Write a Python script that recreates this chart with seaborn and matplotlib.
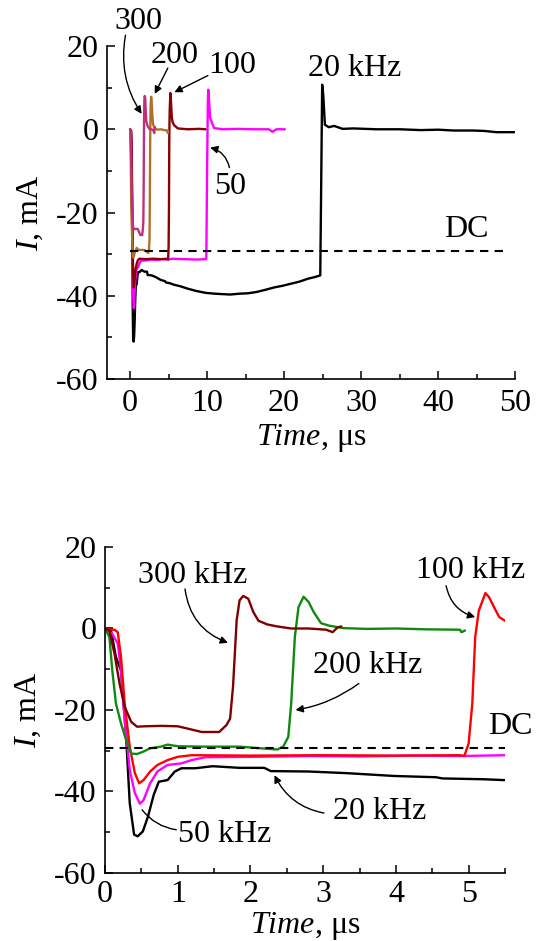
import pandas as pd
import seaborn as sns
import matplotlib.pyplot as plt
from matplotlib.ticker import MultipleLocator

# Current traces I(t) for each modulation frequency (time in us, current in mA)
t_20 = [0, 0.08, 0.15, 0.22, 0.29, 0.34, 0.40, 0.45, 0.52, 0.59, 0.67, 0.74, 0.86, 0.96,
        1.05, 1.24, 1.48, 1.85, 2.19, 2.28, 2.8, 3.32, 3.98, 4.55, 4.64, 5.21, 5.6, 6.5,
        7.5, 8.5, 9.8, 11, 12, 13, 14.2, 15.3, 16.4, 17.5, 18.7, 19.8, 20.9, 22, 23.1,
        24, 24.7, 24.8, 24.95, 25.1, 25.3, 25.8, 26.5, 27.6, 29, 32, 35, 37.8, 40, 42,
        44.5, 46, 47.6, 49.9]
i_20 = [0, -0.3, -7, -10.3, -26.6, -42.9, -50.6, -51.0, -49.8, -46.2, -40.8, -37.6, -37.2,
        -35.1, -34.3, -34.3, -33.8, -34.2, -34.2, -35.0, -35.1, -35.5, -36.2, -36.5, -36.8,
        -37.0, -37.3, -37.7, -38.3, -38.8, -39.3, -39.5, -39.6, -39.7, -39.5, -39.4, -39.1,
        -38.6, -38.0, -37.6, -37.1, -36.6, -35.9, -35.5, -35.1, -17.2, 10.7, 8.0, 1.1, 0.5,
        0.8, 0.1, 0.2, 0, 0, -0.2, -0.1, -0.3, -0.3, -0.4, -0.7, -0.7]

t_50 = [0, 0.10, 0.175, 0.22, 0.27, 0.34, 0.41, 0.48, 0.53, 0.62, 0.72, 0.86, 1.05, 1.19,
        1.38, 2.0, 2.8, 3.5, 4.2, 4.9, 5.5, 7, 8.5, 9.9, 10.0, 10.1, 10.16, 10.4, 10.9,
        12, 14, 16, 18, 18.5, 19, 20.1]
i_50 = [0, -1.3, -3.7, -10.3, -22.5, -34.7, -40.4, -43.0, -42.1, -38.0, -35.1, -33.5, -33.1,
        -32.3, -31.6, -31.5, -31.3, -31.4, -31.2, -31.3, -31.1, -31.2, -31.3, -31.2, -10,
        7, 9.5, 2.7, 0.3, 0, 0.1, 0, 0, -0.6, 0, 0]

t_100 = [0, 0.08, 0.13, 0.175, 0.22, 0.27, 0.34, 0.41, 0.47, 0.53, 0.62, 0.72, 0.86, 1.0,
         1.19, 2.0, 3.0, 4.0, 4.88, 4.94, 5.0, 5.05, 5.09, 5.14, 5.23, 5.28, 5.35, 5.42,
         5.51, 5.7, 6.2, 7.5, 9.0, 9.8]
i_100 = [0, -0.3, -0.3, -0.9, -7, -18.4, -29, -35.5, -38, -37.2, -35.1, -33.5, -32.3, -31.5,
         -31.1, -31.2, -31.1, -31.2, -31.1, -31.3, -28.2, -18.4, -2.1, 4.4, 8.7, 7.7, 5.2,
         2.8, 1.8, 1.0, 0.2, 0, 0.1, 0]

t_200 = [0, 0.06, 0.10, 0.15, 0.22, 0.29, 0.36, 0.44, 0.53, 0.62, 0.77, 0.86, 1.0, 1.38,
         1.85, 2.14, 2.37, 2.45, 2.52, 2.56, 2.61, 2.66, 2.73, 2.80, 2.87, 2.97, 3.08,
         3.27, 3.6, 4.0, 4.4, 4.88, 4.9, 4.95]
i_200 = [0, -2.1, -10.3, -18.4, -23.3, -27.4, -30.7, -30.8, -30.2, -29.4, -29.0, -28.5,
         -28.9, -29.0, -29.0, -29.4, -29.7, -29.0, -26.6, -18.4, -2.1, 5.2, 7.8, 6.5, 4.0,
         1.3, 0.7, 0.1, -0.1, 0, -0.2, -0.3, -0.9, -0.5]

t_300 = [0, 0.06, 0.13, 0.2, 0.27, 0.36, 0.44, 0.55, 0.77, 1.0, 1.12, 1.33, 1.57, 1.67,
         1.72, 1.76, 1.81, 1.85, 1.90, 1.97, 2.04, 2.11, 2.23, 2.37, 2.56, 2.8, 3.04, 3.13,
         3.20, 3.25]
i_300 = [0, -0.5, -6.2, -13.5, -19.2, -22.9, -24.1, -24.0, -23.9, -24.0, -24.5, -25.4,
         -25.4, -23.7, -22.1, -14.3, 2.0, 6.9, 8.0, 7.3, 4.0, 1.9, 1.0, 0.5, 0, 0, -0.3,
         -0.9, 0.3, 0.5]

dc_level = -29.3

freqs = ['20', '50', '100', '200', '300']
traces = {'20': (t_20, i_20), '50': (t_50, i_50), '100': (t_100, i_100),
          '200': (t_200, i_200), '300': (t_300, i_300)}

df = pd.concat([pd.DataFrame({'t': t, 'I': i, 'f': f}) for f, (t, i) in traces.items()],
               ignore_index=True)

colors_top = {'20': 'black', '50': '#ff00ff', '100': '#8b0000', '200': '#b07028', '300': '#c0307a'}
colors_bot = {'20': 'black', '50': '#ff00ff', '100': '#ff0000', '200': '#118811', '300': '#800000'}

sns.set_style('ticks')
plt.rcParams['font.family'] = ['Liberation Serif', 'DejaVu Serif']
plt.rcParams['mathtext.fontset'] = 'custom'
plt.rcParams['mathtext.rm'] = 'Liberation Serif'
plt.rcParams['mathtext.it'] = 'Liberation Serif:italic'
plt.rcParams['axes.unicode_minus'] = False
plt.rcParams['font.size'] = 23
for k in ['text.color', 'axes.labelcolor', 'xtick.color', 'ytick.color', 'axes.edgecolor']:
    plt.rcParams[k] = 'black'

FS = 23

fig = plt.figure(figsize=(5.38, 9.41), dpi=100)
ax1 = fig.add_axes([0.1989, 0.5972, 0.7584, 0.3539])
ax2 = fig.add_axes([0.1952, 0.0723, 0.7435, 0.3464])


def style_axes(ax, xpad, xlabelpad):
    sns.despine(ax=ax)
    for s in ['left', 'bottom']:
        ax.spines[s].set_linewidth(1.2)
    ax.tick_params(which='both', direction='in', width=1.1, labelsize=FS)
    ax.tick_params(which='major', length=6)
    ax.tick_params(which='minor', length=3.8)
    ax.tick_params(axis='x', which='major', pad=xpad)
    ax.tick_params(axis='y', which='major', pad=6)
    ax.set_ylim(-60, 20)
    ax.yaxis.set_major_locator(MultipleLocator(20))
    ax.yaxis.set_minor_locator(MultipleLocator(10))
    ax.set_ylabel('$\\mathit{I}$, mA', fontsize=FS, labelpad=8)
    ax.set_xlabel('$\\mathit{Time}$, μs', fontsize=FS, labelpad=xlabelpad)


def pointer(ax, tail, tip, rad=0.0, head=True):
    props = dict(arrowstyle='-|>' if head else '-', color='black', lw=1,
                 mutation_scale=11, shrinkA=0, shrinkB=0,
                 connectionstyle='arc3,rad=%s' % rad)
    ax.annotate('', xy=tip, xytext=tail, arrowprops=props, annotation_clip=False)


# Top panel: full period
sns.lineplot(data=df, x='t', y='I', hue='f', hue_order=freqs, palette=colors_top,
             estimator=None, sort=False, legend=False, linewidth=1.7, ax=ax1)
ax1.plot([0, 49], [dc_level, dc_level], color='black', lw=1.5, ls=(0, (4, 3)))
style_axes(ax1, 7, 3)
ax1.set_xlim(-3, 50)
ax1.xaxis.set_major_locator(MultipleLocator(10))
ax1.xaxis.set_minor_locator(MultipleLocator(5))

ax1.text(1.1, 25.8, '300', ha='center', va='center', clip_on=False)
pointer(ax1, (-0.6, 22.6), (1.5, 3.7), rad=0.2)
ax1.text(5.8, 17.8, '200', ha='center', va='center')
pointer(ax1, (4.9, 14.7), (3.2, 8.5))
ax1.text(13.3, 15.4, '100', ha='center', va='center')
pointer(ax1, (10.1, 12.9), (5.75, 8.9))
ax1.text(13.0, -13.7, '50', ha='center', va='center')
pointer(ax1, (12.9, -9.2), (10.4, -4.4), rad=0.3)
ax1.text(29.2, 14.6, '20 kHz', ha='center', va='center')
ax1.text(43.7, -24.1, 'DC', ha='center', va='center')

# Bottom panel: first 5.5 us
sns.lineplot(data=df, x='t', y='I', hue='f', hue_order=freqs, palette=colors_bot,
             estimator=None, sort=False, legend=False, linewidth=1.7, ax=ax2)
ax2.plot([0, 5.5], [dc_level, dc_level], color='black', lw=1.5, ls=(0, (4, 3)))
style_axes(ax2, 5, 1)
ax2.set_xlim(0, 5.5)
ax2.xaxis.set_major_locator(MultipleLocator(1))
ax2.xaxis.set_minor_locator(MultipleLocator(0.5))

ax2.text(1.2, 13.0, '300 kHz', ha='center', va='center')
pointer(ax2, (1.10, 9.7), (1.69, -3.5), rad=0.3)
ax2.text(3.61, -9.0, '200 kHz', ha='center', va='center')
pointer(ax2, (3.49, -13.5), (2.62, -20.0), rad=-0.12)
ax2.text(5.02, 14.2, '100 kHz', ha='center', va='center', clip_on=False)
pointer(ax2, (4.69, 10.5), (5.09, 2.8), rad=0.3)
ax2.text(3.77, -44.9, '20 kHz', ha='center', va='center')
pointer(ax2, (3.01, -45.3), (2.33, -36.0), rad=-0.25)
ax2.text(1.64, -50.6, '50 kHz', ha='center', va='center')
pointer(ax2, (0.98, -49.4), (0.51, -44.5), rad=-0.2, head=False)
ax2.text(5.57, -24.1, 'DC', ha='center', va='center', clip_on=False)

fig.savefig('out.png', dpi=100)
